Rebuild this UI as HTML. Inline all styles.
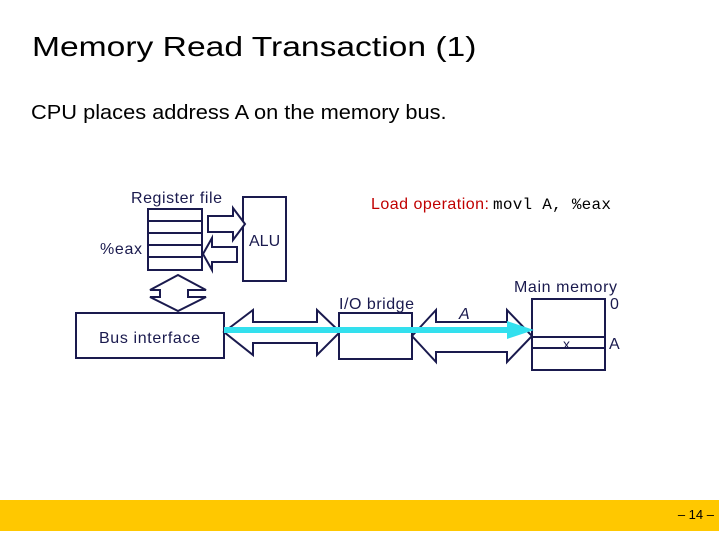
<!DOCTYPE html>
<html><head><meta charset="utf-8"><style>
body{margin:0;width:719px;height:539px;background:#fff;overflow:hidden;position:relative;font-family:"Liberation Sans",sans-serif}
.t{position:absolute;white-space:nowrap;transform-origin:left top}
</style></head><body>
<div class="t" style="left:32px;top:31px;font-size:28px;color:#000;transform:scaleX(1.2)">Memory Read Transaction (1)</div>
<div class="t" style="left:31px;top:102px;font-size:20px;color:#000;transform:scaleX(1.09)">CPU places address A on the memory bus.</div>
<svg width="719" height="539" style="position:absolute;left:0;top:0" font-family="Liberation Sans, sans-serif">
<g fill="#fff" stroke="#1a1a4e" stroke-width="2">
<rect x="148" y="209" width="54" height="61"/>
<line x1="148" y1="221" x2="202" y2="221"/><line x1="148" y1="233" x2="202" y2="233"/><line x1="148" y1="245" x2="202" y2="245"/><line x1="148" y1="257" x2="202" y2="257"/>
<rect x="243" y="197" width="43" height="84"/>
<polygon points="208,216 233,216 233,208 245,224 233,240 233,232 208,232"/>
<polygon points="203,254 212,238 212,247 237,247 237,262 212,262 212,270"/>
<polygon points="178,275 206,290 188,290 188,297 206,297 178,311 150,297 160,297 160,290 150,290"/>
<rect x="76" y="313" width="148" height="45"/>
<polygon points="224,332 253,310 253,322 317,322 317,310 340,332 317,355 317,343 253,343 253,355"/>
<rect x="339" y="313" width="73" height="46"/>
<polygon points="412,336 436,310 436,322 507,322 507,310 532,336 507,362 507,352 436,352 436,362"/>
<rect x="532" y="299" width="73" height="71"/>
<line x1="532" y1="337" x2="605" y2="337"/><line x1="532" y1="348" x2="605" y2="348"/>
</g>
<line x1="224" y1="330" x2="510" y2="330" stroke="#33e0ee" stroke-width="6"/>
<polygon points="507,321 534,330 507,339" fill="#33e0ee"/>
<g fill="#1a1a4e" font-size="16">
<text x="131" y="203" textLength="91">Register file</text>
<text x="100" y="254" textLength="42">%eax</text>
<text x="249" y="246">ALU</text>
<text x="339" y="309" textLength="75">I/O bridge</text>
<text x="99" y="343" textLength="101">Bus interface</text>
<text x="514" y="292" textLength="103">Main memory</text>
<text x="610" y="309">0</text>
<text x="609" y="349">A</text>
<text x="563" y="349" font-size="14">x</text>
<text x="459" y="319" font-style="italic">A</text>
</g>
<text x="371" y="209" font-size="16" fill="#c00000"><tspan textLength="118">Load operation:</tspan><tspan x="493" font-family="Liberation Mono, monospace" fill="#000" font-size="16" textLength="118">movl A, %eax</tspan></text>
<rect x="0" y="500" width="719" height="31" fill="#ffc800"/>
<text x="714" y="519" font-size="13" text-anchor="end" fill="#000">– 14 –</text>
</svg>
</body></html>
